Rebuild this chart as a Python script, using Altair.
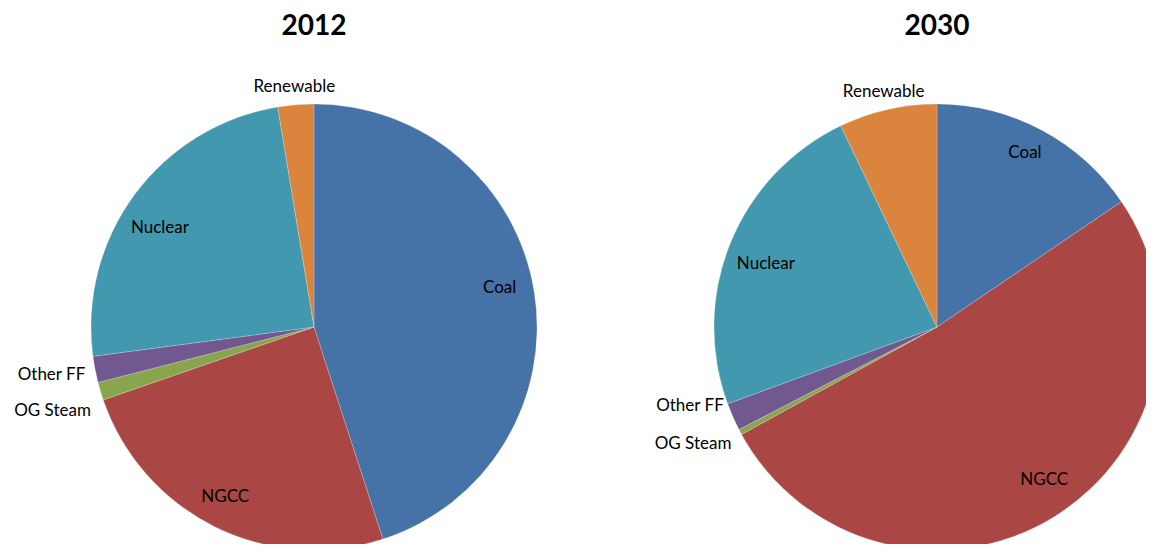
import math
import altair as alt
import pandas as pd

# ---- data (percent shares of generation) ----
YEARS = ["2012", "2030"]
SOURCES = ["Coal", "NGCC", "OG Steam", "Other FF", "Nuclear", "Renewable"]
SHARE_2012 = [45.0, 24.7, 1.3, 1.9, 24.5, 2.6]
SHARE_2030 = [15.5, 51.5, 0.4, 2.0, 23.5, 7.1]
COLORS = ["#4572A7", "#AA4643", "#89A54E", "#71588F", "#4198AF", "#DB843D"]

rows = []
for year, shares in zip(YEARS, [SHARE_2012, SHARE_2030]):
    total = sum(shares)
    acc = 0.0
    for i, (src, val) in enumerate(zip(SOURCES, shares)):
        start = acc / total * 100
        acc += val
        end = acc / total * 100
        rows.append(dict(year=year, source=src, order=i, value=val,
                         start=start, end=end, mid=(start + end) / 2))
df = pd.DataFrame(rows)
titles_df = pd.DataFrame({"year": YEARS})

# ---- layout / style (not data) ----
PIE_RADIUS = 223
CENTER_Y = 319
FONT = "Lato"
LABEL_SIZE = 17
# label placement style: (radius, align, dx, dy)
INSIDE_R, RENEW_R, SIDE_R = 188, 241, 233
LABEL_STYLE = {
    ("2012", "Coal"): (INSIDE_R, "center", 0, -10),
    ("2012", "NGCC"): (INSIDE_R, "center", -5, 2),
    ("2012", "Nuclear"): (INSIDE_R, "center", -3, 13),
    ("2012", "Renewable"): (RENEW_R, "center", 0, 0),
    ("2012", "Other FF"): (SIDE_R, "right", 0, 4),
    ("2012", "OG Steam"): (SIDE_R, "right", 0, 17),
    ("2030", "Coal"): (INSIDE_R, "center", 0, -8),
    ("2030", "NGCC"): (INSIDE_R, "center", 9, -7),
    ("2030", "Nuclear"): (INSIDE_R, "center", 3, 8),
    ("2030", "Renewable"): (RENEW_R, "center", 0, 0),
    ("2030", "Other FF"): (SIDE_R, "right", 0, -15),
    ("2030", "OG Steam"): (SIDE_R, "right", 0, 7),
}

x_enc = alt.X("year:N", axis=None,
              scale=alt.Scale(type="point", domain=YEARS, range=[306, 929], padding=0))
theta_scale = alt.Scale(type="linear", domain=[0, 100], range=[0, 2 * math.pi])

arcs = alt.Chart(df).mark_arc(
    radius=PIE_RADIUS, clip=True, stroke="white", strokeWidth=0.8, strokeOpacity=0.25
).encode(
    x=x_enc,
    y=alt.value(CENTER_Y),
    theta=alt.Theta("start:Q", stack=None, scale=theta_scale),
    theta2="end:Q",
    color=alt.Color("source:N", scale=alt.Scale(domain=SOURCES, range=COLORS), legend=None),
    order=alt.Order("order:Q"),
)


def label_layer(year, source, radius, align, dx, dy):
    return alt.Chart(df).transform_filter(
        f"datum.year == '{year}' && datum.source == '{source}'"
    ).mark_text(
        radius=radius, align=align, baseline="middle", dx=dx, dy=dy,
        font=FONT, fontSize=LABEL_SIZE, color="black"
    ).encode(
        x=x_enc,
        y=alt.value(CENTER_Y),
        theta=alt.Theta("mid:Q", stack=None, scale=theta_scale),
        text="source:N",
    )


layers = [arcs]
for (yr, src), (rad, al, dx, dy) in LABEL_STYLE.items():
    layers.append(label_layer(yr, src, rad, al, dx, dy))

titles = alt.Chart(titles_df).mark_text(
    font=FONT, fontSize=28, fontWeight="bold", color="black", baseline="middle"
).encode(x=x_enc, y=alt.value(19), text="year:N")
layers.append(titles)

chart = alt.layer(*layers).properties(
    width=1138, height=536, padding=0,
    autosize=alt.AutoSizeParams(type="none"),
).configure_view(stroke=None)

chart.save("out.html", embed_options={"renderer": "svg", "actions": False})
